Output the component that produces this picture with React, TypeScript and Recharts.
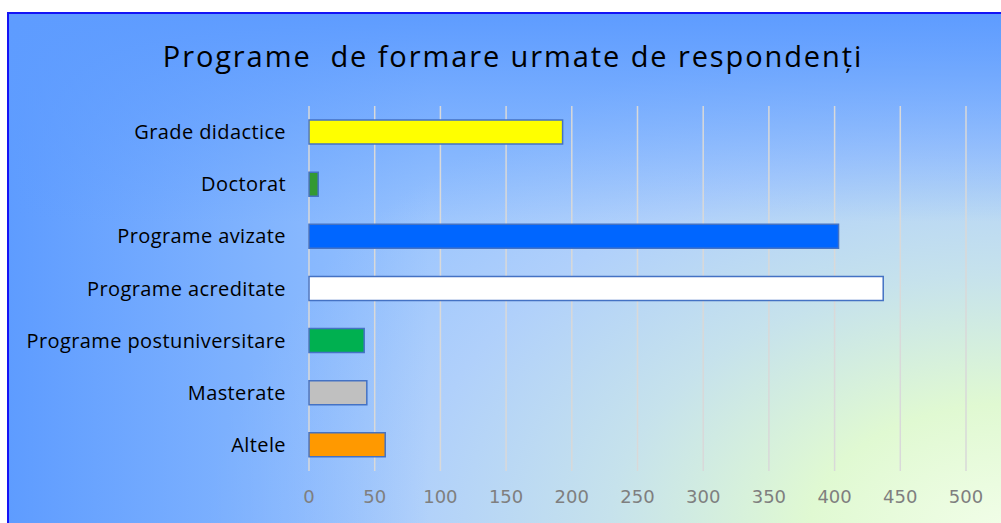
import { BarChart, Bar, XAxis, YAxis, CartesianGrid, Cell } from "recharts";

const categories = [
  "Grade didactice",
  "Doctorat ",
  "Programe avizate",
  "Programe acreditate",
  "Programe postuniversitare",
  "Masterate",
  "Altele",
];
const values = [193, 7, 403, 437, 42, 44, 58];
const barColors = ["#ffff00", "#339933", "#0066ff", "#ffffff", "#00b050", "#c0c0c0", "#ff9900"];
const xTicks = [0, 50, 100, 150, 200, 250, 300, 350, 400, 450, 500];

const data = categories.map((name, i) => ({ name, value: values[i] }));

const BG = [
  "linear-gradient(to bottom, #5e9cff 0%, rgba(94,156,255,0) 40%)",
  "linear-gradient(to right, #5e9cff 0%, rgba(94,156,255,0) 42%)",
  "radial-gradient(ellipse 80% 100% at 100% 100%, #f2fee9 0%, #e0f9d2 25%, #c6e2ec 50%, #b0d0fb 75%, #98c3fe 100%)",
].join(", ");

export default function App() {
  return (
    <div style={{ position: "fixed", left: 0, top: 0, width: 1001, height: 523, background: "#fff", overflow: "hidden" }}>
      <div
        style={{
          position: "absolute",
          left: 7,
          top: 12,
          width: 1000,
          height: 520,
          borderLeft: "2px solid #1414f5",
          borderTop: "2px solid #1414f5",
          background: BG,
        }}
      >
        {/* title */}
        <div
          style={{
            position: "absolute",
            left: 0,
            top: 27,
            width: 1008,
            textAlign: "center",
            fontFamily: "'Open Sans', sans-serif",
            fontSize: 29,
            letterSpacing: 1.9,
            lineHeight: "30px",
            whiteSpace: "pre",
            color: "#000",
          }}
        >
          Programe  de formare urmate de respondenți
        </div>
        <BarChart
          width={992}
          height={509}
          data={data}
          layout="vertical"
          margin={{ top: 92, right: 35, bottom: 22, left: 0 }}
          barCategoryGap={0}
        >
          <CartesianGrid horizontal={false} stroke="#d9d9d9" strokeWidth={1.5} />
          <XAxis
            type="number"
            domain={[0, 500]}
            ticks={xTicks}
            axisLine={false}
            tickLine={false}
            tickMargin={13}
            height={30}
            tick={{ fill: "#7f7f7f", fontSize: 18, fontFamily: "DejaVu Sans" }}
          />
          <YAxis
            type="category"
            dataKey="name"
            width={300}
            axisLine={false}
            tickLine={false}
            tickMargin={17}
            tick={{ fill: "#000", fontSize: 20, letterSpacing: 0.4, fontFamily: "'Open Sans', sans-serif" }}
          />
          <Bar dataKey="value" barSize={24} stroke="#4472c4" strokeWidth={1.5} isAnimationActive={false}>
            {data.map((d, i) => (
              <Cell key={d.name} fill={barColors[i]} />
            ))}
          </Bar>
        </BarChart>
      </div>
    </div>
  );
}
